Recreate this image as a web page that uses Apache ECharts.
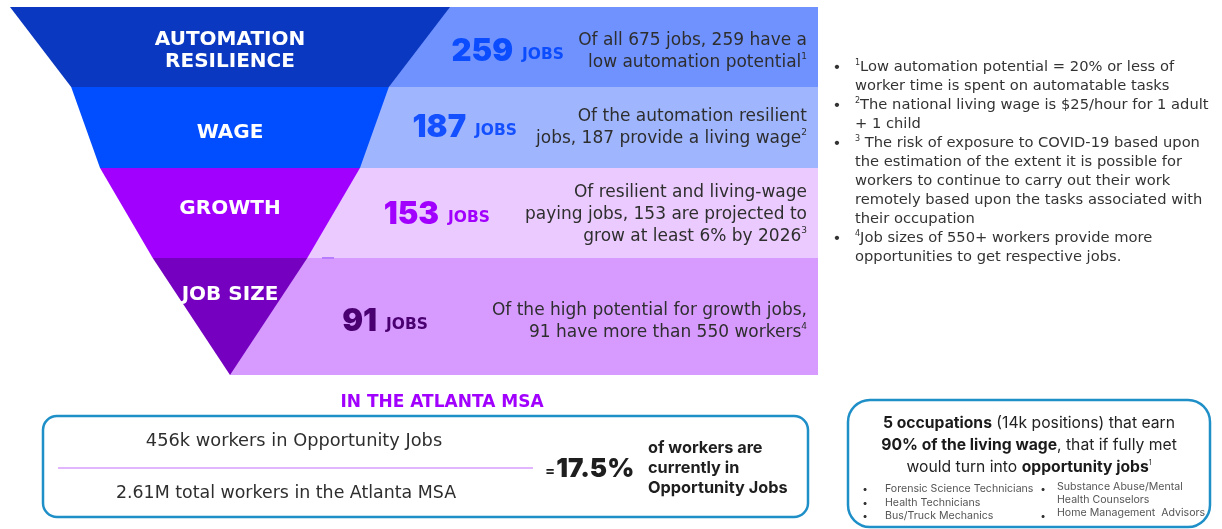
<!DOCTYPE html>
<html>
<head>
<meta charset="utf-8">
<script src="https://cdn.jsdelivr.net/npm/echarts@6/dist/echarts.min.js"></script>
<style>
  html, body { margin: 0; padding: 0; background: #fff; }
  #chart { width: 1222px; height: 529px; }
</style>
</head>
<body>
<div id="chart"></div>
<script>
// data
const stages = ['AUTOMATION\nRESILIENCE', 'WAGE', 'GROWTH', 'JOB SIZE'];
const jobs = [259, 187, 153, 91];
const totalJobs = 675;
const descriptions = [
  'Of all ' + totalJobs + ' jobs, ' + jobs[0] + ' have a\nlow automation potential{s|1}',
  'Of the automation resilient\njobs, ' + jobs[1] + ' provide a living wage{s|2}',
  'Of resilient and living-wage\npaying jobs, ' + jobs[2] + ' are projected to\ngrow at least 6% by 2026{s|3}',
  'Of the high potential for growth jobs,\n' + jobs[3] + ' have more than 550 workers{s|4}'
];
const notes = [
  ['{s|1}Low automation potential = 20% or less of', 'worker time is spent on automatable tasks'],
  ['{s|2}The national living wage is $25/hour for 1 adult', '+ 1 child'],
  ['{s|3} The risk of exposure to COVID-19 based upon', 'the estimation of the extent it is possible for',
   'workers to continue to carry out their work', 'remotely based upon the tasks associated with', 'their occupation'],
  ['{s|4}Job sizes of 550+ workers provide more', 'opportunities to get respective jobs.']
];
const regionTitle = 'IN THE ATLANTA MSA';
const oppWorkers = '456k';
const totalWorkers = '2.61M';
const oppShare = 17.5;
const occupationsLeft = ['Forensic Science Technicians', 'Health Technicians', 'Bus/Truck Mechanics'];
const occupationsRight = [['Substance Abuse/Mental', 'Health Counselors'], ['Home Management  Advisors']];

// styles / layout
const FONT = 'Inter, "Noto Sans", sans-serif';
const BODY = '"DejaVu Sans", Inter, sans-serif';
const HEAVY = '"DejaVu Sans", Inter, sans-serif';
const layerColors = ['#0a38c0', '#004eff', '#a100ff', '#7500c0'];
const bandColors = ['#6f92ff', '#9fb6ff', '#ebcbff', '#d79bff'];
const numColors = ['#0b4cff', '#1450ff', '#a100ff', '#4a0070'];
const layerHeights = [80, 81, 90, 117];
const labelShift = [4, 5.5, -4, -21.5];
const numRight = [564, 517, 490, 428];
const textY = [52, 128, 215, 322];
const funnelTop = 7;
const bandLeft = 230, bandRight = 818;

const chart = echarts.init(document.getElementById('chart'));

let graphics = [];
let y = funnelTop;
layerHeights.forEach(function (h, i) {
  graphics.push({
    type: 'rect', z: 0,
    shape: { x: bandLeft, y: y, width: bandRight - bandLeft, height: h },
    style: { fill: bandColors[i] }
  });
  graphics.push({
    type: 'text', z: 10, x: numRight[i], y: textY[i],
    style: {
      text: '{n|' + jobs[i] + '}{j|JOBS}',
      align: 'right', verticalAlign: 'middle',
      rich: {
        n: { fontFamily: FONT, fontWeight: 900, fontSize: 31, fill: numColors[i] },
        j: { fontFamily: HEAVY, fontWeight: 'bold', fontSize: 15.5, fill: numColors[i], padding: [6, 0, 0, 9] }
      }
    }
  });
  graphics.push({
    type: 'text', z: 10, x: 807, y: textY[i],
    style: {
      text: descriptions[i],
      align: 'right', verticalAlign: 'middle',
      fontFamily: BODY, fontSize: 17, fill: '#2e2e2e', lineHeight: 22,
      rich: { s: { fontFamily: BODY, fontSize: 9, fill: '#2e2e2e', verticalAlign: 'top', lineHeight: 14 } }
    }
  });
  y += h;
});
// small stray tick under the growth band
graphics.push({
  type: 'line', z: 10,
  shape: { x1: 322, y1: 258, x2: 334, y2: 258 },
  style: { stroke: '#b77cff', lineWidth: 2 }
});

// footnotes on the right
let line = 0;
notes.forEach(function (n) {
  graphics.push({
    type: 'text', z: 10, x: 837, y: 67 + line * 19,
    style: { text: '•', fontFamily: FONT, fontSize: 14, fill: '#333', align: 'center', verticalAlign: 'middle' }
  });
  n.forEach(function (t) {
    graphics.push({
      type: 'text', z: 10, x: 855, y: 67 + line * 19,
      style: {
        text: t, fontFamily: BODY, fontSize: 14.7, fill: '#333', verticalAlign: 'middle',
        rich: { s: { fontFamily: BODY, fontSize: 8, fill: '#333', padding: [0, 0, 8, 0] } }
      }
    });
    line++;
  });
});

// bottom left panel
graphics.push(
  {
    type: 'text', z: 10, x: 442, y: 403,
    style: { text: regionTitle, fontFamily: HEAVY, fontWeight: 'bold', fontSize: 17, fill: '#a100ff', align: 'center', verticalAlign: 'middle' }
  },
  {
    type: 'rect', z: 5,
    shape: { x: 43, y: 416, width: 765, height: 101, r: 14 },
    style: { fill: 'none', stroke: '#1f8fc8', lineWidth: 2.5 }
  },
  {
    type: 'text', z: 10, x: 294, y: 441,
    style: { text: oppWorkers + ' workers in Opportunity Jobs', fontFamily: BODY, fontSize: 17.8, fill: '#2e2e2e', align: 'center', verticalAlign: 'middle' }
  },
  {
    type: 'line', z: 10,
    shape: { x1: 58, y1: 468, x2: 533, y2: 468 },
    style: { stroke: '#d99cff', lineWidth: 1.5 }
  },
  {
    type: 'text', z: 10, x: 286, y: 493,
    style: { text: totalWorkers + ' total workers in the Atlanta MSA', fontFamily: BODY, fontSize: 17.4, fill: '#2e2e2e', align: 'center', verticalAlign: 'middle' }
  },
  {
    type: 'text', z: 10, x: 545, y: 469,
    style: {
      text: '{e|=}{p|' + oppShare + '%}', verticalAlign: 'middle',
      rich: {
        e: { fontFamily: FONT, fontWeight: 'bold', fontSize: 15, fill: '#1e1e1e', padding: [4, 1, 0, 0] },
        p: { fontFamily: FONT, fontWeight: 900, fontSize: 26, fill: '#1e1e1e' }
      }
    }
  },
  {
    type: 'text', z: 10, x: 648, y: 468,
    style: {
      text: 'of workers are\ncurrently in\nOpportunity Jobs', fontFamily: FONT, fontWeight: 'bold', fontSize: 16.3,
      lineHeight: 20, fill: '#1e1e1e', verticalAlign: 'middle'
    }
  }
);

// bottom right panel
graphics.push(
  {
    type: 'rect', z: 5,
    shape: { x: 848, y: 400, width: 362, height: 127, r: 22 },
    style: { fill: 'none', stroke: '#1f8fc8', lineWidth: 2.5 }
  },
  {
    type: 'text', z: 10, x: 1029, y: 445,
    style: {
      text: '{b|5 occupations} (14k positions) that earn\n{b|90% of the living wage}, that if fully met\nwould turn into {b|opportunity jobs}{s|1}',
      align: 'center', verticalAlign: 'middle', fontFamily: FONT, fontSize: 15.7, fill: '#222', lineHeight: 22,
      rich: {
        b: { fontFamily: FONT, fontWeight: 'bold', fontSize: 15.7, fill: '#1a1a1a' },
        s: { fontFamily: FONT, fontSize: 7, fill: '#222', padding: [0, 0, 8, 0] }
      }
    }
  }
);
occupationsLeft.forEach(function (t, i) {
  const yy = 489 + i * 13.5;
  graphics.push(
    { type: 'text', z: 10, x: 865, y: yy, style: { text: '•', fontFamily: FONT, fontSize: 10, fill: '#333', align: 'center', verticalAlign: 'middle' } },
    { type: 'text', z: 10, x: 885, y: yy, style: { text: t, fontFamily: FONT, fontSize: 10.6, fill: '#555', verticalAlign: 'middle' } }
  );
});
const rightBulletY = [489, 516];
occupationsRight.forEach(function (lines, i) {
  graphics.push(
    { type: 'text', z: 10, x: 1043, y: rightBulletY[i], style: { text: '•', fontFamily: FONT, fontSize: 10, fill: '#333', align: 'center', verticalAlign: 'middle' } }
  );
  lines.forEach(function (t, k) {
    graphics.push(
      { type: 'text', z: 10, x: 1057, y: (i === 0 ? 487 : 513) + k * 13, style: { text: t, fontFamily: FONT, fontSize: 10.6, fill: '#555', verticalAlign: 'middle' } }
    );
  });
});

function stageLabel(name, shift) {
  const body = name.split('\n').map(function (l) { return '{t|' + l + '}'; }).join('\n');
  if (shift > 0) return '{g| }\n' + body;
  if (shift < 0) return body + '\n{g| }';
  return body;
}

const option = {
  animation: false,
  graphic: { elements: graphics },
  series: [
    {
      type: 'funnel',
      left: 10,
      top: funnelTop,
      width: 440,
      height: layerHeights.reduce(function (a, b) { return a + b; }, 0),
      min: 0,
      max: jobs[0],
      minSize: '0%',
      maxSize: '100%',
      sort: 'none',
      gap: 0,
      z: 3,
      silent: true,
      label: { show: true, position: 'inside' },
      itemStyle: { borderWidth: 0 },
      data: stages.map(function (s, i) {
        return {
          name: s,
          value: jobs[i],
          itemStyle: { color: layerColors[i], height: layerHeights[i] },
          label: {
            formatter: stageLabel(s, labelShift[i]),
            rich: {
              t: { color: '#fff', fontFamily: HEAVY, fontWeight: 'bold', fontSize: 20, lineHeight: 22 },
              g: { fontSize: 1, lineHeight: Math.abs(labelShift[i]) * 2 }
            }
          }
        };
      })
    }
  ]
};

chart.setOption(option);
</script>
</body>
</html>
